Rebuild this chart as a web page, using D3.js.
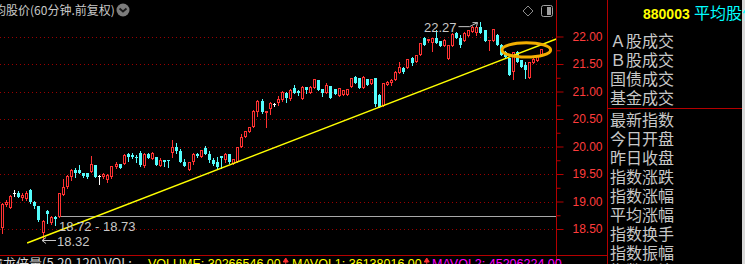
<!DOCTYPE html>
<html><head><meta charset="utf-8">
<script src="https://cdn.jsdelivr.net/npm/d3@7"></script>
<style>html,body{margin:0;padding:0;background:#000;overflow:hidden}svg{display:block}</style>
</head><body>
<svg id="c" width="745" height="264"></svg>
<script>
// ---- data (60-minute candles, forward-adjusted) ----
const opens  = [18.51,18.94,18.89,19.15,19.16,19.06,19.04,19.21,19.00,18.91,18.42,18.83,18.60,18.72,18.72,19.12,19.26,19.45,19.57,19.57,19.51,19.51,19.54,19.66,19.47,19.44,19.40,19.44,19.62,19.68,19.69,19.86,19.84,19.81,19.89,19.65,19.86,19.78,19.80,19.65,19.75,19.75,19.89,20.00,19.92,19.72,19.57,19.71,19.86,19.81,19.97,19.86,19.76,19.71,19.82,19.75,19.86,19.69,19.71,19.99,20.17,20.27,20.36,20.63,20.83,20.61,20.69,20.78,20.79,20.85,20.98,20.86,21.06,21.01,20.86,21.09,20.98,21.06,21.21,21.04,20.98,21.10,21.04,20.92,20.94,20.94,21.09,21.27,21.24,21.06,21.22,21.14,21.24,20.94,20.74,21.12,21.16,21.21,21.34,21.43,21.42,21.60,21.54,21.66,21.97,21.91,21.88,21.97,21.91,21.83,21.59,21.83,22.07,21.97,21.91,22.01,22.09,22.07,22.18,22.11,21.91,21.92,22.03,21.85,21.72,21.60,21.36,21.72,21.57,21.48,21.24,21.52,21.56,21.66];
const highs  = [18.97,19.03,19.12,19.21,19.19,19.16,19.20,19.22,19.01,18.92,18.66,18.84,18.74,18.73,19.16,19.41,19.48,19.59,19.61,19.66,19.52,19.52,19.83,19.66,19.48,19.52,19.50,19.65,19.72,19.69,19.86,19.89,19.89,19.85,19.91,19.88,19.88,19.90,19.80,19.79,19.75,19.76,20.11,20.06,19.95,19.77,19.72,19.88,19.88,19.94,20.01,19.91,19.79,19.80,19.82,19.88,19.86,19.78,19.99,20.23,20.28,20.35,20.66,20.85,20.86,20.65,20.80,20.79,20.92,21.01,20.99,21.04,21.12,21.03,21.10,21.09,21.10,21.23,21.21,21.05,21.16,21.10,21.04,21.07,21.03,21.05,21.25,21.28,21.25,21.28,21.23,21.23,21.25,20.96,21.16,21.19,21.22,21.37,21.54,21.44,21.59,21.63,21.67,21.88,21.99,21.96,21.97,22.12,21.92,21.95,21.85,22.06,22.08,22.03,22.08,22.12,22.19,22.19,22.27,22.12,21.94,22.14,22.04,21.86,21.74,21.61,21.72,21.74,21.58,21.54,21.54,21.60,21.66,21.78];
const lows   = [18.43,18.92,18.88,19.10,19.08,19.03,19.03,18.97,18.89,18.65,18.32,18.61,18.59,18.57,18.72,19.12,19.25,19.39,19.45,19.51,19.45,19.42,19.54,19.44,19.32,19.42,19.36,19.42,19.60,19.60,19.68,19.74,19.79,19.71,19.65,19.63,19.79,19.77,19.66,19.65,19.64,19.63,19.81,19.88,19.72,19.65,19.57,19.69,19.81,19.80,19.86,19.72,19.66,19.60,19.61,19.72,19.70,19.69,19.71,19.99,20.17,20.26,20.36,20.55,20.61,20.36,20.59,20.73,20.76,20.83,20.80,20.85,20.97,20.94,20.86,20.98,20.97,21.06,21.03,20.92,20.98,20.89,20.95,20.92,20.93,20.94,21.09,21.15,21.06,21.06,21.12,21.13,20.74,20.71,20.74,21.11,21.12,21.21,21.33,21.34,21.42,21.48,21.54,21.66,21.85,21.90,21.74,21.89,21.83,21.83,21.59,21.83,21.97,21.81,21.91,22.01,22.09,22.03,22.06,21.92,21.75,21.92,21.85,21.66,21.62,21.30,21.22,21.54,21.45,21.24,21.24,21.51,21.55,21.65];
const closes = [18.95,19.00,19.10,19.15,19.09,19.12,19.15,18.99,18.91,18.66,18.65,18.78,18.72,18.69,19.15,19.27,19.46,19.57,19.52,19.51,19.46,19.45,19.68,19.45,19.47,19.50,19.48,19.65,19.68,19.60,19.85,19.80,19.81,19.79,19.67,19.86,19.79,19.89,19.66,19.75,19.72,19.74,19.99,19.91,19.72,19.65,19.71,19.86,19.82,19.94,19.86,19.75,19.69,19.62,19.79,19.86,19.71,19.77,19.99,20.17,20.28,20.35,20.65,20.83,20.63,20.65,20.79,20.78,20.87,21.00,20.88,21.03,20.98,20.98,21.09,21.03,21.09,21.22,21.03,20.98,21.12,20.89,20.95,21.06,21.03,21.04,21.24,21.16,21.06,21.27,21.12,21.22,20.77,20.71,21.16,21.18,21.21,21.36,21.45,21.35,21.59,21.51,21.66,21.88,21.85,21.95,21.97,21.89,21.83,21.94,21.85,22.05,21.97,21.85,22.07,22.11,22.18,22.17,22.06,21.92,21.94,22.13,21.85,21.66,21.63,21.30,21.71,21.54,21.45,21.40,21.54,21.59,21.66,21.77];

const priceTicks = [18.5, 19.0, 19.5, 20.0, 20.5, 21.0, 21.5, 22.0];
const minorTicks = [18.75, 19.25, 19.75, 20.25, 20.75, 21.25, 21.75];
const panelGroup1 = ["Ａ股成交", "Ｂ股成交", "国债成交", "基金成交"];
const panelGroup2 = ["最新指数", "今日开盘", "昨日收盘", "指数涨跌", "指数涨幅", "平均涨幅", "指数换手", "指数振幅", "指数量比"];
const title = "均股价(60分钟.前复权)";
const indexCode = "880003";
const indexName = "平均股价";
// annotations
const highMark = {i: 118, v: 22.27};
const lowMark = {i: 10, v: 18.32};
const gapRange = [18.72, 18.73];
const gapStart = 13.8;
const trendLine = [{i: 6.2, v: 18.245}, {i: 136.7, v: 21.955}];
const ring = {i: 129.3, v: 21.755, di: 6, dv: 0.13};
const volLine = [
  {t: "擒龙倍量(5,20,120) VOL:", c: "#d8d8d8"},
  {t: "VOLUME: 30266546.00", c: "#ffff00", arrow: true},
  {t: "MAVOL1: 36138016.00", c: "#ffff00", arrow: true},
  {t: "MAVOL2: 45206224.00", c: "#ff00ff"}
];

// ---- drawing ----
const RED = "#ff3232", CYAN = "#54fcfc", WHITE = "#ffffff";
const FRAME = "#b40000";
const svg = d3.select("#c");
svg.append("rect").attr("width", 745).attr("height", 264).attr("fill", "#000");

const N = opens.length;
const x = d3.scaleLinear().domain([0, N - 1]).range([2.0, 541.3]);
const y = d3.scaleLinear().domain([18.5, 22]).range([229, 36.5]);
const AX = 556;

// grid
svg.append("g").selectAll("line").data(priceTicks).join("line")
  .attr("x1", 0).attr("x2", AX - 1)
  .attr("y1", d => Math.round(y(d)) + 0.5).attr("y2", d => Math.round(y(d)) + 0.5)
  .attr("stroke", "#9a0000").attr("stroke-dasharray", "1,3");

// gap line
svg.append("line").attr("x1", x(gapStart)).attr("x2", AX)
  .attr("y1", Math.round(y(gapRange[1])) + 0.5).attr("y2", Math.round(y(gapRange[1])) + 0.5)
  .attr("stroke", "#a8a8a8");

// candles
const cg = svg.append("g");
d3.range(N).forEach(i => {
  const o = opens[i], c = closes[i], h = highs[i], l = lows[i];
  const cx = Math.round(x(i));
  const left = cx - 1;
  let yt = Math.round(y(Math.max(o, c))), yb = Math.round(y(Math.min(o, c)));
  if (yb <= yt) yb = yt + 1;
  const yh = Math.round(y(h)), yl = Math.round(y(l));
  const col = c > o ? RED : (c < o ? CYAN : WHITE);
  cg.append("line").attr("x1", cx + 0.5).attr("x2", cx + 0.5)
    .attr("y1", yh).attr("y2", yl + 1).attr("stroke", col);
  if (c > o && yb - yt > 2) {
    cg.append("rect").attr("x", left + 0.5).attr("y", yt + 0.5)
      .attr("width", 2).attr("height", yb - yt - 1)
      .attr("fill", "#000").attr("stroke", col);
  } else {
    cg.append("rect").attr("x", left).attr("y", yt)
      .attr("width", 3).attr("height", yb - yt).attr("fill", col);
  }
});

// trend line
svg.append("path")
  .attr("d", d3.line().x(d => x(d.i)).y(d => y(d.v))(trendLine))
  .attr("stroke", "#ffff00").attr("stroke-width", 1.4).attr("fill", "none");

// ring
svg.append("ellipse")
  .attr("cx", x(ring.i)).attr("cy", y(ring.v))
  .attr("rx", x(ring.i + ring.di) - x(ring.i))
  .attr("ry", y(ring.v - ring.dv) - y(ring.v))
  .attr("fill", "none").attr("stroke", "#f2ae00").attr("stroke-width", 3);

// annotations
const GREY = "#c8c8c8";
svg.append("text").attr("x", x(gapStart) + 1).attr("y", y(gapRange[0]) + 14)
  .attr("fill", GREY).attr("font-family", "Liberation Sans, Arial, sans-serif").attr("font-size", 13)
  .text(gapRange[0].toFixed(2) + " - " + gapRange[1].toFixed(2));
{
  const tx = x(lowMark.i) - 0.5, ty = Math.round(y(lowMark.v)) + 1.5;
  svg.append("line").attr("x1", tx).attr("x2", tx + 14).attr("y1", ty).attr("y2", ty).attr("stroke", GREY);
  svg.append("path").attr("d", `M${tx},${ty} l4,-3 M${tx},${ty} l4,3`).attr("stroke", GREY).attr("fill", "none");
  svg.append("text").attr("x", tx + 15).attr("y", ty + 5)
    .attr("fill", GREY).attr("font-family", "Liberation Sans, Arial, sans-serif").attr("font-size", 13)
    .text(lowMark.v.toFixed(2));
}
{
  const tx = x(highMark.i) - 3, ty = y(highMark.v) + 1;
  svg.append("path").attr("d", `M${tx - 19},${ty + 4} L${tx - 8},${ty + 4} L${tx},${ty}`).attr("stroke", GREY).attr("fill", "none");
  svg.append("path").attr("d", `M${tx},${ty} l-5,0 M${tx},${ty} l-1,4`).attr("stroke", GREY).attr("fill", "none");
  svg.append("text").attr("x", tx - 21).attr("y", ty + 9).attr("text-anchor", "end")
    .attr("fill", GREY).attr("font-family", "Liberation Sans, Arial, sans-serif").attr("font-size", 13)
    .text(highMark.v.toFixed(2));
}

// axis
const axis = d3.axisRight(y).tickValues(priceTicks).tickSize(7).tickPadding(9).tickFormat(d3.format(".2f"));
const ag = svg.append("g").attr("transform", `translate(${AX + 0.5},0)`).call(axis);
ag.select(".domain").remove();
ag.selectAll("line").attr("stroke", FRAME);
ag.selectAll("text").attr("fill", "#ff3c3c").attr("font-family", "Liberation Sans, Arial, sans-serif").attr("font-size", 12);
const mg = svg.append("g").attr("transform", `translate(${AX + 0.5},0)`)
  .call(d3.axisRight(y).tickValues(minorTicks).tickSize(4).tickFormat(""));
mg.select(".domain").remove();
mg.selectAll("line").attr("stroke", FRAME);

// frame lines
svg.append("line").attr("x1", AX + 0.5).attr("x2", AX + 0.5).attr("y1", 0).attr("y2", 264).attr("stroke", FRAME);
svg.append("line").attr("x1", 607.5).attr("x2", 607.5).attr("y1", 0).attr("y2", 264).attr("stroke", FRAME);
svg.append("line").attr("x1", 0).attr("x2", 607).attr("y1", 255.5).attr("y2", 255.5).attr("stroke", FRAME);
svg.append("line").attr("x1", 607).attr("x2", 742).attr("y1", 108.5).attr("y2", 108.5).attr("stroke", FRAME);
svg.append("rect").attr("x", 742).attr("y", 0).attr("width", 3).attr("height", 264).attr("fill", "#d8d8d8");

// title
svg.append("text").attr("x", -6).attr("y", 14.5).attr("fill", GREY)
  .attr("font-family", "Noto Sans CJK SC, sans-serif").attr("font-size", 12).text(title);
svg.append("circle").attr("cx", 123).attr("cy", 10).attr("r", 6.5).attr("fill", "#7c7c7c");
svg.append("path").attr("d", "M119.5,8.5 L123,11.5 L126.5,8.5").attr("stroke", "#1a1a1a").attr("stroke-width", 1.8).attr("fill", "none");
svg.append("path").attr("d", "M528,6 L533,11 L528,16 L523,11 Z").attr("stroke", "#8c8c8c").attr("fill", "none");
svg.append("rect").attr("x", 541.5).attr("y", 5.5).attr("width", 11).attr("height", 11).attr("rx", 2).attr("stroke", "#a0a0a0").attr("fill", "none");
svg.append("rect").attr("x", 547).attr("y", 7).attr("width", 4).attr("height", 8).attr("fill", "#a0a0a0");

// right panel
svg.append("text").attr("x", 643).attr("y", 19).attr("fill", "#ffff00")
  .attr("font-family", "Liberation Sans, Arial, sans-serif").attr("font-weight", "bold").attr("font-size", 14).text(indexCode);
svg.append("text").attr("x", 694).attr("y", 19).attr("fill", "#00ffff")
  .attr("font-family", "Noto Sans CJK SC, sans-serif").attr("font-size", 16).text(indexName);
const pf = "Noto Sans CJK SC, sans-serif";
svg.append("g").selectAll("text").data(panelGroup1).join("text")
  .attr("x", 610).attr("y", (d, i) => 40.3 + i * 18.9).attr("dominant-baseline", "central")
  .attr("fill", GREY).attr("font-family", pf).attr("font-size", 16).text(d => d);
svg.append("g").selectAll("text").data(panelGroup2).join("text")
  .attr("x", 610).attr("y", (d, i) => 119.2 + i * 18.9).attr("dominant-baseline", "central")
  .attr("fill", GREY).attr("font-family", pf).attr("font-size", 16).text(d => d);

// bottom indicator line
const bx = [-10, 148, 292, 432];
volLine.forEach((s, k) => {
  const t = svg.append("text").attr("x", bx[k]).attr("y", 268).attr("fill", s.c)
    .attr("font-family", k === 0 ? "Noto Sans CJK SC, sans-serif" : "Liberation Sans, Arial, sans-serif")
    .attr("font-size", k === 0 ? 13 : 12.5).text(s.t);
  if (s.arrow) {
    const w = t.node().getComputedTextLength();
    const ax = bx[k] + w + 5;
    svg.append("path").attr("d", `M${ax},258 l-2.5,4 h5 z M${ax},260 v8`).attr("stroke", "#ff3232").attr("fill", "#ff3232");
  }
});
</script>
</body></html>
